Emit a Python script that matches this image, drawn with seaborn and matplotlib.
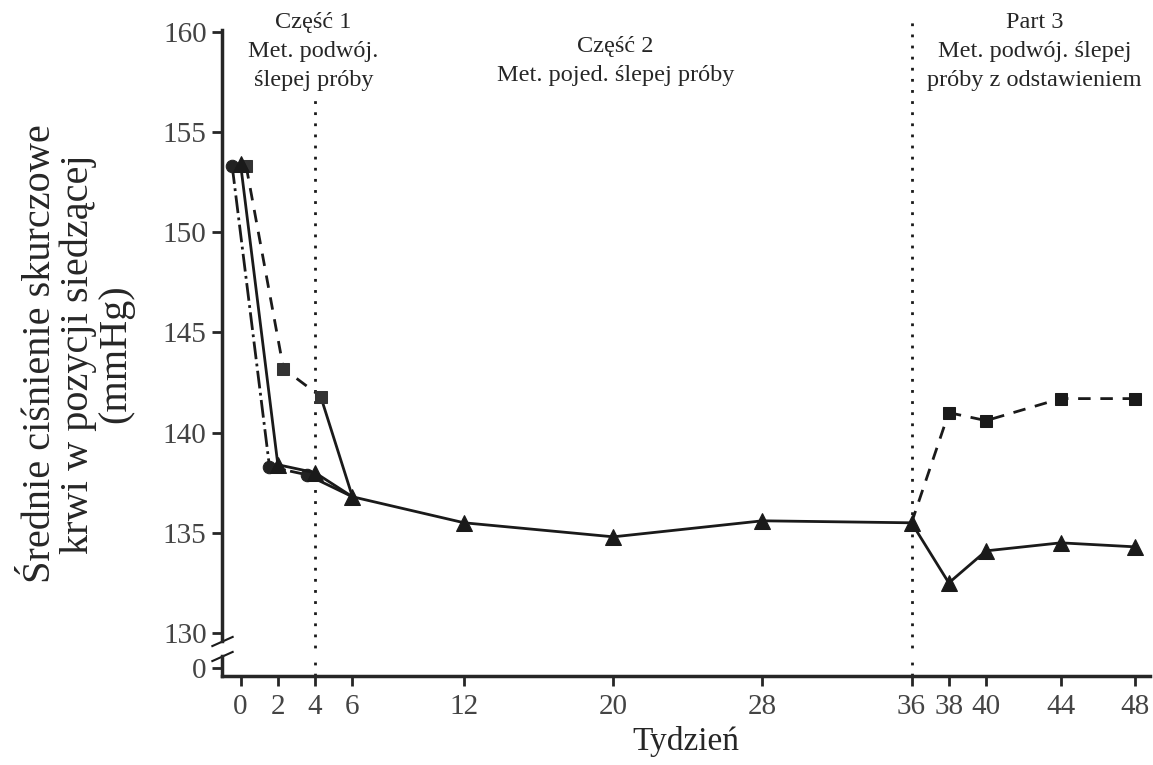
import numpy as np
import pandas as pd
import seaborn as sns
import matplotlib.pyplot as plt

# tygodnie i srednie SBP
weeks = [0, 2, 4, 6, 12, 20, 28, 36, 38, 40, 44, 48]
tri_sbp = [153.4, 138.4, 138.0, 136.8, 135.5, 134.8, 135.6, 135.5, 132.5, 134.1, 134.5, 134.3]

weeks_p1 = [0, 2, 4]
circ_sbp = [153.3, 138.3, 137.9]
sq_sbp_p1 = [153.3, 143.2, 141.8]

weeks_p3 = [38, 40, 44, 48]
sq_sbp_p3 = [141.0, 140.6, 141.7, 141.7]

xticks = [0, 2, 4, 6, 12, 20, 28, 36, 38, 40, 44, 48]
yticks_top = [130, 135, 140, 145, 150, 155, 160]

sns.set_theme(style="ticks")
plt.rcParams['font.family'] = ['Liberation Serif', 'DejaVu Serif']

fig = plt.figure(figsize=(11.53, 7.65), dpi=100)
ax = fig.add_axes([0.1925, 124 / 765, 0.805, 611 / 765])
axb = fig.add_axes([0.1925, 89 / 765, 0.805, 20 / 765])

# small horizontal offsets used in the source to separate markers in part 1
off_c, off_s = -0.45, 0.3
dash = (0, (4.5, 3.5))
dots = (0, (1, 3))

tri = pd.DataFrame({"week": weeks, "sbp": tri_sbp})
circ = pd.DataFrame({"week": np.array(weeks_p1) + off_c, "sbp": circ_sbp})
sq1 = pd.DataFrame({"week": np.array(weeks_p1) + off_s, "sbp": sq_sbp_p1})
sq3 = pd.DataFrame({"week": weeks_p3, "sbp": sq_sbp_p3})

# connectors between the groups
sns.lineplot(x=[weeks_p1[-1] + off_s, weeks[3]], y=[sq_sbp_p1[-1], tri_sbp[3]], ax=ax,
             color='k', lw=2, linestyle='-', estimator=None, sort=False)
sns.lineplot(x=[weeks_p1[-1] + off_c, weeks[3]], y=[circ_sbp[-1], tri_sbp[3]], ax=ax,
             color='k', lw=2, linestyle='-', estimator=None, sort=False)
sns.lineplot(x=[weeks[7], weeks_p3[0]], y=[tri_sbp[7], sq_sbp_p3[0]], ax=ax,
             color='k', lw=2, linestyle=dash, estimator=None, sort=False)

sns.lineplot(data=circ, x="week", y="sbp", ax=ax, color='k', lw=2, linestyle='-.',
             marker='o', markersize=9, mec='#222', mfc='#222', estimator=None, sort=False)
sns.lineplot(data=sq1, x="week", y="sbp", ax=ax, color='k', lw=2, linestyle=dash,
             marker='s', markersize=9, mec='#333', mfc='#333', estimator=None, sort=False)
sns.lineplot(data=sq3, x="week", y="sbp", ax=ax, color='k', lw=2, linestyle=dash,
             marker='s', markersize=9, mec='k', mfc='k', estimator=None, sort=False)
sns.lineplot(data=tri, x="week", y="sbp", ax=ax, color='k', lw=2, linestyle='-',
             marker='^', markersize=11, mec='k', mfc='k', estimator=None, sort=False)

for a in (ax, axb):
    a.set_xlim(-1.0, 48.8)
    for s in ['top', 'right']:
        a.spines[s].set_visible(False)
    a.spines['left'].set_linewidth(2.5)
    a.tick_params(axis='y', length=7, width=2, labelsize=21, labelcolor='#444', pad=4)

axb.axvline(4, color='k', lw=2, linestyle=dots, zorder=0)
axb.axvline(36, color='k', lw=2, linestyle=dots, zorder=0)
# dotted lines also run through the gap
ax.axvline(4, ymin=-0.03, ymax=0.885, color='k', lw=2, linestyle=dots, zorder=0, clip_on=False)
ax.axvline(36, ymin=-0.03, ymax=1.02, color='k', lw=2, linestyle=dots, zorder=0, clip_on=False)

ax.set_ylim(129.6, 160.1)
ax.set_yticks(yticks_top)
ax.spines['bottom'].set_visible(False)
ax.set_xticks([])
ax.set_xlabel('')
ax.set_ylabel('')

axb.set_ylim(-0.4, 0.6)
axb.set_yticks([0])
axb.spines['bottom'].set_linewidth(2.5)
axb.set_xticks(xticks)
axb.tick_params(axis='x', length=7, width=2, labelsize=21, labelcolor='#444', pad=6)
axb.set_xlabel('Tydzień', fontsize=24, labelpad=4)
axb.set_ylabel('')

# break marks
d = 0.45
kw = dict(marker=[(-1, -d), (1, d)], markersize=16, linestyle='none', color='k',
          mec='k', mew=1.5, clip_on=False)
ax.plot([0], [0], transform=ax.transAxes, **kw)
axb.plot([0], [1], transform=axb.transAxes, **kw)

fig.text(78 / 1153, 1 - 354 / 765,
         'Średnie ciśnienie skurczowe\nkrwi w pozycji siedzącej\n(mmHg)',
         rotation=90, ha='center', va='center', fontsize=29, linespacing=1.0)

tr = ax.get_xaxis_transform()
ax.text(3.9, 1.03, 'Część 1\nMet. podwój.\nślepej próby', transform=tr,
        ha='center', va='top', fontsize=17.5, linespacing=1.5)
ax.text(20.1, 0.99, 'Część 2\nMet. pojed. ślepej próby', transform=tr,
        ha='center', va='top', fontsize=17.5, linespacing=1.5)
ax.text(42.6, 1.03, 'Part 3\nMet. podwój. ślepej\npróby z odstawieniem', transform=tr,
        ha='center', va='top', fontsize=17.5, linespacing=1.5)

fig.savefig('out.png', dpi=100)
